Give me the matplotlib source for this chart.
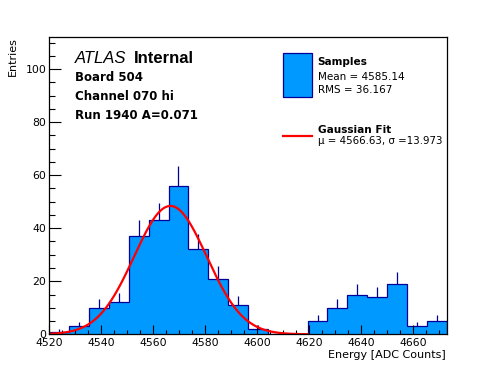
import numpy as np
import matplotlib
matplotlib.use("Agg")
import matplotlib.pyplot as plt
from matplotlib.ticker import MultipleLocator
from matplotlib.patches import Rectangle
from matplotlib.lines import Line2D

plt.rcParams['font.family'] = ['DejaVu Sans']

# ---- data ----
x_low = 4520.0
x_high = 4673.0
n_bins = 20
counts = [1, 3, 10, 12, 37, 43, 56, 32, 21, 11, 2, 0, 0, 5, 10, 15, 14, 19, 3, 5]
errors = [1.0, 1.7, 3.2, 3.5, 6.1, 6.6, 7.5, 5.7, 4.6, 3.3, 1.4, 0, 0, 2.2, 3.2, 3.9, 3.7, 4.4, 1.7, 2.2]
fit_mu = 4566.63
fit_sigma = 13.973
fit_amp = 48.4
fit_xmax = 4619.45
y_max = 112

title_lines = ["Board 504", "Channel 070 hi", "Run 1940 A=0.071"]
legend_hist = ["Samples", "Mean = 4585.14", "RMS = 36.167"]
legend_fit = ["Gaussian Fit", "\u03bc = 4566.63, \u03c3 =13.973"]

fill_col = '#0099ff'
edge_col = '#000099'
red = '#ff0000'

W, H = 496, 372
fig = plt.figure(figsize=(W / 100, H / 100), dpi=100)
fig.patch.set_facecolor('white')

def fx(px):
    return px / W

def fy(py):
    return 1 - py / H

ax = fig.add_axes([fx(49.3), fy(334.3), fx(446.7) - fx(49.3), fy(37.3) - fy(334.3)])

edges = np.linspace(x_low, x_high, n_bins + 1)
centers = 0.5 * (edges[:-1] + edges[1:])
counts_a = np.array(counts, dtype=float)
errors_a = np.array(errors, dtype=float)

ax.stairs(counts_a, edges, fill=True, color=fill_col, zorder=1)
ax.stairs(counts_a, edges, baseline=0, color=edge_col, linewidth=0.9, zorder=1.2)
mask = counts_a > 0
ax.vlines(centers[mask], counts_a[mask], counts_a[mask] + errors_a[mask],
          color=edge_col, linewidth=0.9, zorder=1.1)

xf = np.linspace(x_low, fit_xmax, 400)
yf = fit_amp * np.exp(-0.5 * ((xf - fit_mu) / fit_sigma) ** 2)
ax.plot(xf, yf, color=red, linewidth=1.6, zorder=3)

ax.set_xlim(x_low, x_high)
ax.set_ylim(0, y_max)
ax.set_axisbelow(False)

ax.xaxis.set_major_locator(MultipleLocator(20))
ax.xaxis.set_minor_locator(MultipleLocator(5))
ax.yaxis.set_major_locator(MultipleLocator(20))
ax.yaxis.set_minor_locator(MultipleLocator(5))
ax.tick_params(axis='x', which='major', direction='in', length=6.5, width=0.8, labelsize=7.8, pad=3)
ax.tick_params(axis='x', which='minor', direction='in', length=3.2, width=0.8)
ax.tick_params(axis='y', which='major', direction='in', length=8.6, width=0.8, labelsize=7.8, pad=2)
ax.tick_params(axis='y', which='minor', direction='in', length=4.1, width=0.8)
ax.tick_params(top=False, right=False, which='both')
for s in ax.spines.values():
    s.set_linewidth(0.9)
    s.set_zorder(4)

fig.text(fx(12.5), fy(37), "Entries", rotation=90, ha='center', va='top', fontsize=8.0)
fig.text(fx(446), fy(355), "Energy [ADC Counts]", ha='right', va='center', fontsize=8.0)

# ATLAS label
fig.text(fx(74.7), fy(62.7), "ATLAS", style='italic', fontsize=12, va='baseline', ha='left',
         family=['Liberation Sans', 'DejaVu Sans'])
fig.text(fx(134), fy(62.7), "Internal", weight='bold', fontsize=12, va='baseline', ha='left',
         family=['Liberation Sans', 'DejaVu Sans'])
for line, base in zip(title_lines, [81, 100, 119]):
    fig.text(fx(74.7), fy(base), line, weight='bold', fontsize=8.5, va='baseline', ha='left')

# legend
fig.patches.append(Rectangle((fx(283.3), fy(96.7)), fx(311.7) - fx(283.3), fy(53.3) - fy(96.7),
                             transform=fig.transFigure, facecolor=fill_col, edgecolor=edge_col,
                             linewidth=0.9))
fig.lines.append(Line2D([fx(283.3), fx(311.7)], [fy(135.7), fy(135.7)], transform=fig.transFigure,
                        color=red, linewidth=1.6))
fig.text(fx(317.7), fy(65), legend_hist[0], weight='bold', fontsize=7.6, va='baseline')
fig.text(fx(317.7), fy(80), legend_hist[1], fontsize=7.5, va='baseline')
fig.text(fx(317.7), fy(93.3), legend_hist[2], fontsize=7.5, va='baseline')
fig.text(fx(317.7), fy(133.3), legend_fit[0], weight='bold', fontsize=7.6, va='baseline')
fig.text(fx(317.7), fy(144.5), legend_fit[1], fontsize=7.4, va='baseline')

fig.savefig("out.png", dpi=100)
